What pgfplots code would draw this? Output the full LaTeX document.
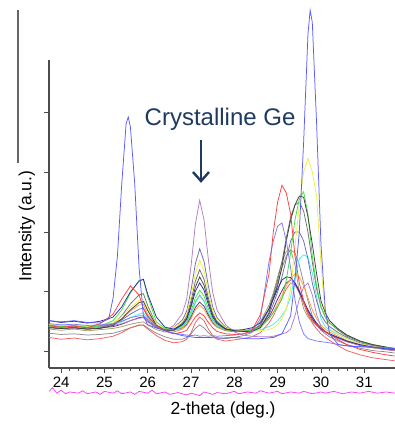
\documentclass[border=0pt]{standalone}
\usepackage{pgfplots}
\usepackage{pgfplotstable}
\pgfplotsset{compat=1.18}
\usepackage{fontspec}
\setmainfont{Liberation Sans}
\usetikzlibrary{arrows.meta}
\definecolor{cBlue}{HTML}{5A5AFF}
\definecolor{cPeri}{HTML}{7C7CF4}
\definecolor{cRed}{HTML}{FF4040}
\definecolor{cRedB}{HTML}{F26060}
\definecolor{cYel}{HTML}{F0F040}
\definecolor{cGrn}{HTML}{40E040}
\definecolor{cBlk}{HTML}{404040}
\definecolor{cDGr}{HTML}{707070}
\definecolor{cSla}{HTML}{6C6CB4}
\definecolor{cCya}{HTML}{40F0F0}
\definecolor{cNav}{HTML}{2A2AA0}
\definecolor{cVio}{HTML}{B47CC8}
\definecolor{cOli}{HTML}{A0A060}
\definecolor{cDPu}{HTML}{6A2A70}
\definecolor{cOra}{HTML}{FFA040}
\definecolor{cLGr}{HTML}{8C8C8C}
\definecolor{cMag}{HTML}{FF40FF}
\definecolor{cNote}{HTML}{1F3A60}

\pgfplotstableread{
x peri red redb yel grn blk dgr sla cya nav vio oli dpu ora lgr
23.72 1.47 1.44 1.24 1.46 1.43 1.40 1.41 1.45 1.44 1.52 1.43 1.38 1.41 1.43 1.31
24.0 1.45 1.41 1.21 1.43 1.42 1.39 1.39 1.43 1.42 1.49 1.41 1.36 1.39 1.41 1.29
24.3 1.46 1.43 1.23 1.45 1.43 1.40 1.41 1.44 1.44 1.51 1.43 1.38 1.40 1.43 1.30
24.6 1.44 1.40 1.20 1.42 1.41 1.38 1.38 1.42 1.41 1.48 1.40 1.35 1.38 1.40 1.28
24.9 1.45 1.47 1.22 1.45 1.43 1.39 1.40 1.44 1.42 1.51 1.42 1.37 1.40 1.42 1.29
25.2 1.47 1.63 1.26 1.48 1.52 1.44 1.47 1.46 1.45 1.58 1.44 1.39 1.42 1.47 1.31
25.4 1.51 1.88 1.32 1.59 1.70 1.55 1.60 1.53 1.50 1.75 1.47 1.42 1.46 1.55 1.35
25.6 1.57 2.10 1.40 1.74 1.98 1.70 1.80 1.63 1.57 2.00 1.52 1.46 1.52 1.68 1.40
25.8 1.60 1.95 1.45 1.86 2.19 1.82 1.95 1.71 1.63 2.18 1.56 1.49 1.57 1.78 1.44
25.9 1.60 1.72 1.44 1.87 2.21 1.84 1.97 1.73 1.65 2.21 1.57 1.50 1.58 1.79 1.45
26.0 1.54 1.58 1.38 1.71 1.92 1.69 1.77 1.60 1.55 1.96 1.50 1.45 1.51 1.63 1.40
26.2 1.42 1.44 1.27 1.46 1.50 1.44 1.45 1.43 1.42 1.58 1.40 1.37 1.41 1.44 1.31
26.4 1.35 1.35 1.19 1.38 1.39 1.36 1.37 1.37 1.37 1.41 1.35 1.33 1.36 1.37 1.25
26.6 1.31 1.30 1.15 1.41 1.37 1.36 1.37 1.41 1.37 1.38 1.44 1.33 1.36 1.36 1.21
26.8 1.29 1.33 1.17 1.50 1.43 1.46 1.48 1.53 1.41 1.45 1.64 1.38 1.40 1.39 1.21
26.9 1.28 1.36 1.21 1.63 1.50 1.56 1.60 1.68 1.48 1.54 1.88 1.45 1.46 1.44 1.24
27.0 1.27 1.47 1.32 1.93 1.68 1.79 1.85 2.03 1.63 1.75 2.43 1.62 1.58 1.55 1.30
27.1 1.28 1.58 1.49 2.31 1.90 2.08 2.18 2.47 1.82 2.01 3.13 1.83 1.74 1.70 1.39
27.2 1.26 1.65 1.58 2.53 2.03 2.25 2.37 2.72 1.93 2.15 3.53 1.95 1.83 1.78 1.45
27.3 1.27 1.60 1.52 2.35 1.93 2.11 2.21 2.51 1.84 2.03 3.20 1.85 1.76 1.71 1.40
27.4 1.26 1.49 1.38 1.99 1.72 1.84 1.90 2.10 1.66 1.79 2.54 1.64 1.61 1.58 1.32
27.5 1.27 1.40 1.27 1.69 1.54 1.61 1.64 1.75 1.51 1.58 1.99 1.49 1.49 1.47 1.26
27.6 1.26 1.34 1.21 1.53 1.45 1.49 1.51 1.57 1.43 1.47 1.70 1.41 1.42 1.41 1.23
27.8 1.27 1.30 1.18 1.40 1.37 1.38 1.39 1.41 1.37 1.38 1.45 1.35 1.36 1.36 1.22
28.0 1.28 1.29 1.20 1.36 1.34 1.35 1.36 1.36 1.35 1.36 1.33 1.34 1.34 1.34 1.24
28.2 1.30 1.30 1.22 1.35 1.34 1.34 1.35 1.35 1.34 1.37 1.28 1.35 1.34 1.34 1.27
28.4 1.33 1.35 1.25 1.34 1.36 1.34 1.36 1.36 1.35 1.40 1.26 1.38 1.36 1.35 1.32
28.6 1.55 1.62 1.32 1.35 1.42 1.40 1.45 1.42 1.37 1.48 1.25 1.50 1.42 1.40 1.45
28.8 2.50 2.30 1.48 1.37 1.55 1.65 1.72 1.62 1.42 1.72 1.25 1.78 1.58 1.55 1.70
28.9 2.85 3.00 1.60 1.40 1.65 1.90 1.95 1.80 1.46 1.88 1.26 1.98 1.72 1.66 1.90
29.0 3.10 3.50 1.75 1.45 1.76 2.10 2.20 2.00 1.52 2.05 1.28 2.25 1.88 1.80 2.15
29.1 3.15 3.78 1.90 1.55 1.88 2.42 2.50 2.25 1.60 2.20 1.30 2.50 2.02 1.95 2.40
29.2 2.85 3.65 2.05 1.72 2.20 2.85 2.90 2.55 1.72 2.25 1.32 2.68 2.15 2.10 2.60
29.3 2.40 3.30 2.15 2.05 2.65 3.20 3.25 2.85 1.92 2.24 1.38 2.70 2.20 2.22 2.70
29.4 1.87 2.60 2.12 2.75 3.20 3.45 3.45 3.00 2.25 2.15 1.60 2.45 2.15 2.30 2.65
29.5 1.50 2.15 1.98 3.45 3.55 3.60 3.50 3.00 2.55 2.00 1.88 2.00 2.02 2.25 2.45
29.6 1.30 1.85 1.80 4.00 3.67 3.58 3.35 2.85 2.62 1.85 2.08 1.72 1.85 2.10 2.15
29.7 1.22 1.65 1.62 4.23 3.30 3.25 3.00 2.55 2.58 1.70 2.15 1.58 1.68 1.90 1.85
29.8 1.20 1.52 1.48 4.00 2.60 2.80 2.50 2.15 2.32 1.58 1.95 1.50 1.55 1.70 1.60
29.9 1.18 1.45 1.38 3.60 2.10 2.30 2.05 1.85 1.92 1.48 1.62 1.44 1.45 1.55 1.45
30.0 1.17 1.40 1.30 2.45 1.75 1.85 1.75 1.62 1.55 1.40 1.42 1.38 1.38 1.45 1.36
30.1 1.16 1.34 1.24 1.60 1.58 1.65 1.58 1.50 1.42 1.34 1.33 1.33 1.33 1.38 1.30
30.2 1.15 1.29 1.19 1.38 1.48 1.52 1.48 1.42 1.36 1.30 1.28 1.29 1.29 1.33 1.25
30.4 1.12 1.20 1.10 1.30 1.38 1.38 1.36 1.32 1.29 1.24 1.22 1.23 1.23 1.26 1.18
30.6 1.10 1.12 1.02 1.22 1.28 1.28 1.26 1.24 1.22 1.18 1.17 1.17 1.17 1.19 1.12
30.9 1.09 1.04 0.95 1.14 1.18 1.18 1.17 1.15 1.14 1.12 1.11 1.11 1.11 1.12 1.06
31.2 1.08 0.99 0.90 1.09 1.12 1.12 1.11 1.10 1.09 1.08 1.07 1.07 1.07 1.07 1.02
31.5 1.07 0.95 0.87 1.06 1.08 1.08 1.07 1.06 1.06 1.05 1.04 1.04 1.04 1.04 1.00
31.7 1.06 0.93 0.85 1.04 1.06 1.05 1.05 1.04 1.04 1.04 1.02 1.02 1.02 1.02 0.98
}\scans

\pgfplotstableread{
x y
23.72 1.52
24.0 1.50
24.3 1.52
24.6 1.49
24.9 1.48
25.1 1.55
25.2 1.90
25.3 2.60
25.4 3.80
25.5 4.80
25.55 4.92
25.6 4.75
25.7 3.80
25.8 2.40
25.9 1.60
26.0 1.45
26.2 1.40
26.5 1.33
26.8 1.27
27.1 1.24
27.4 1.24
27.7 1.23
28.0 1.24
28.3 1.22
28.6 1.22
28.9 1.24
29.1 1.30
29.3 1.60
29.4 2.20
29.5 3.00
29.6 4.50
29.7 6.30
29.75 6.70
29.8 6.50
29.9 4.80
30.0 2.80
30.1 1.70
30.2 1.30
30.4 1.12
30.7 1.09
31.0 1.08
31.3 1.07
31.7 1.05
}\bright

\pgfplotstableread{
x y
23.72 0.34
23.8 0.40
23.9 0.31
24.0 0.36
24.1 0.30
24.2 0.33
24.4 0.31
24.5 0.35
24.6 0.30
24.8 0.33
24.9 0.29
25.0 0.34
25.2 0.31
25.3 0.35
25.4 0.30
25.6 0.33
25.7 0.29
25.8 0.34
26.0 0.31
26.1 0.36
26.2 0.30
26.4 0.33
26.5 0.29
26.7 0.32
26.9 0.28
27.0 0.31
27.2 0.27
27.3 0.33
27.5 0.29
27.6 0.32
27.8 0.30
28.0 0.34
28.1 0.30
28.3 0.33
28.5 0.31
28.6 0.35
28.8 0.31
29.0 0.34
29.1 0.30
29.3 0.33
29.5 0.31
29.6 0.34
29.8 0.30
30.0 0.33
30.1 0.31
30.3 0.34
30.5 0.30
30.7 0.33
30.9 0.31
31.1 0.34
31.3 0.31
31.5 0.33
31.71 0.31
}\magline

\begin{document}
\begin{tikzpicture}
\path[use as bounding box] (-49pt,-60pt) rectangle (346pt,368pt);
\begin{axis}[
  at={(0pt,0pt)}, anchor=south west,
  scale only axis, width=346pt, height=308pt,
  xmin=23.72, xmax=31.71, ymin=0.73, ymax=5.87,
  axis lines*=left,
  axis line style={draw=black!70, line width=1.1pt},
  xtick={24,25,...,31}, minor x tick num=4,
  ytick={1,2,3,4,5}, yticklabels={},
  tick align=outside,
  major tick length=5pt, minor tick length=3pt,
  every tick/.style={black!70, line width=0.8pt},
  tick label style={font=\fontsize{15}{15}\selectfont},
  /pgf/number format/assume math mode=true,
  xlabel={2-theta (deg.)}, ylabel={Intensity (a.u.)},
  label style={font=\fontsize{17.5}{18}\selectfont},
  xlabel style={at={(axis description cs:0.503,-0.136)}, anchor=center},
  ylabel style={at={(axis description cs:-0.064,0.46)}, anchor=center},
  clip=false,
  every axis plot/.append style={line width=0.75pt, no markers},
]
\addplot[cLGr] table[x=x,y=lgr] {\scans};
\addplot[cRedB] table[x=x,y=redb] {\scans};
\addplot[cOli] table[x=x,y=oli] {\scans};
\addplot[cDPu] table[x=x,y=dpu] {\scans};
\addplot[cOra] table[x=x,y=ora] {\scans};
\addplot[cCya] table[x=x,y=cya] {\scans};
\addplot[cVio] table[x=x,y=vio] {\scans};
\addplot[cSla] table[x=x,y=sla] {\scans};
\addplot[cDGr] table[x=x,y=dgr] {\scans};
\addplot[cYel] table[x=x,y=yel] {\scans};
\addplot[cGrn] table[x=x,y=grn] {\scans};
\addplot[cBlk] table[x=x,y=blk] {\scans};
\addplot[cNav] table[x=x,y=nav] {\scans};
\addplot[cPeri] table[x=x,y=peri] {\scans};
\addplot[cRed] table[x=x,y=red] {\scans};
\addplot[cBlue] table[x=x,y=y] {\bright};
\addplot[cMag] table[x=x,y=y] {\magline};
\node[anchor=base, text=cNote, font=\fontsize{24}{24}\selectfont] at (axis cs:27.67,4.78) {Crystalline Ge};
\draw[cNote, line width=2.6pt, -{Straight Barb[length=9pt,width=16pt,line width=2.4pt]}] (axis cs:27.23,4.53) -- (axis cs:27.23,3.82);
\draw[black!60, line width=1.2pt] (axis description cs:-0.0896,1.162) -- (axis description cs:-0.0896,0.666);
\end{axis}
\end{tikzpicture}
\end{document}
